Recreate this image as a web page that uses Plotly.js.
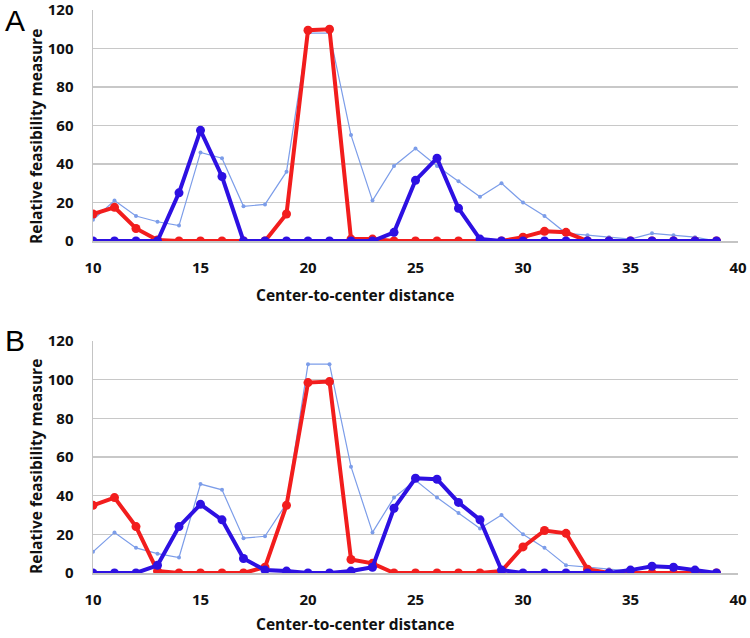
<!DOCTYPE html>
<html>
<head>
<meta charset="utf-8">
<script src="https://cdn.plot.ly/plotly-3.0.1.min.js"></script>
<style>html,body{margin:0;padding:0;background:#fff;}#chart{width:750px;height:638px;}</style>
</head>
<body>
<div id="chart"></div>
<script>
const distance = [10,11,12,13,14,15,16,17,18,19,20,21,22,23,24,25,26,27,28,29,30,31,32,33,34,35,36,37,38,39];
const reference = [11,21,13,10,8,46,43,18,19,36,108,108,55,21,39,48,39,31,23,30,20,13,4,3,2,1,4,3,2,0];
const redA  = [14,17.5,6.5,0.5,0,0,0,0,0,14,109.5,110,1,1,0,0,0,0,0,0,2,5,4.5,0,0,0,0,0,0,0];
const blueA = [0,0,0,0,25,57.5,33.5,0,0,0,0,0,0,0,4.5,31.5,43,17,1,0,0,0,0,0,0,0,0,0,0,0];
const redB  = [35,39,24,1,0,0,0,0,3,35,98.5,99,7,5,0,0,0,0,0,1,13.5,22,20.5,2,0,0,0,0,0,0];
const blueB = [0,0,0,4,24,35.5,27.5,7.5,1.5,1,0,0,1,3,33.5,49,48.5,36.5,27.5,1.5,0,0,0,0,0,1.5,3.5,3,1.5,0];
const yTicks = [0,20,40,60,80,100,120];
const xTicks = [10,15,20,25,30,35,40];
const panelLabels = ['A','B'];
const xTitle = 'Center-to-center distance';
const yTitle = 'Relative feasibility measure';

const LIGHT = '#7c9de9', RED = '#f21d1d', BLUE = '#2d10e2';
function traces(red, blue, xa, ya) {
  return [
    {x: distance, y: reference, xaxis: xa, yaxis: ya, mode: 'lines+markers', line: {color: LIGHT, width: 1.2}, marker: {color: LIGHT, size: 4}},
    {x: distance, y: red, xaxis: xa, yaxis: ya, mode: 'lines+markers', line: {color: RED, width: 4}, marker: {color: RED, size: 9}},
    {x: distance, y: blue, xaxis: xa, yaxis: ya, mode: 'lines+markers', line: {color: BLUE, width: 4}, marker: {color: BLUE, size: 9}}
  ];
}
const data = traces(redA, blueA, 'x', 'y').concat(traces(redB, blueB, 'x2', 'y2'));
const tickFont = {family: 'Open Sans, sans-serif', size: 15, color: '#111', weight: 'bold'};
function xax(anchor) {
  return {anchor: anchor, domain: [93/750, 738/750], range: [10, 40], tickvals: xTicks, showgrid: false, zeroline: false,
    showline: true, linecolor: '#c4c4c4', linewidth: 1.5, ticks: '', tickfont: tickFont, ticklabelstandoff: 12,
    ticklabeloverflow: 'allow', fixedrange: true};
}
function yax(anchor, top, bottom) {
  return {anchor: anchor, domain: [1 - bottom/638, 1 - top/638], range: [0, 120], tickvals: yTicks, showgrid: true, gridcolor: '#c8c8c8', gridwidth: 1.5,
    zeroline: false, showline: true, linecolor: '#c4c4c4', linewidth: 1.5, ticks: '', tickfont: tickFont, ticklabelstandoff: 15,
    ticklabeloverflow: 'allow', fixedrange: true};
}
const titleFont = {family: 'Open Sans, sans-serif', size: 15.5, color: '#111', weight: 'bold'};
const labelFont = {family: 'Liberation Sans, Arial, sans-serif', size: 30, color: '#000'};
const annotations = [
  {text: panelLabels[0], x: 3, y: 2, xanchor: 'left', yanchor: 'top', font: labelFont},
  {text: panelLabels[1], x: 3, y: 322, xanchor: 'left', yanchor: 'top', font: labelFont},
  {text: xTitle, x: 355, y: 295, xanchor: 'center', yanchor: 'middle', font: titleFont},
  {text: xTitle, x: 355, y: 637, xanchor: 'center', yanchor: 'bottom', font: titleFont},
  {text: yTitle, x: 36, y: 137, textangle: -90, xanchor: 'center', yanchor: 'middle', font: titleFont},
  {text: yTitle, x: 36, y: 467, textangle: -90, xanchor: 'center', yanchor: 'middle', font: titleFont}
].map(a => Object.assign({}, a, {showarrow: false, xref: 'paper', yref: 'paper', x: a.x / 750, y: 1 - a.y / 638}));

const layout = {
  width: 750, height: 638, margin: {l: 0, r: 0, t: 0, b: 0}, showlegend: false,
  paper_bgcolor: '#fff', plot_bgcolor: '#fff',
  xaxis: xax('y'), yaxis: yax('x', 10, 241),
  xaxis2: xax('y2'), yaxis2: yax('x2', 341, 573),
  annotations: annotations
};
Plotly.newPlot('chart', data, layout, {displayModeBar: false, staticPlot: true});
</script>
</body>
</html>
